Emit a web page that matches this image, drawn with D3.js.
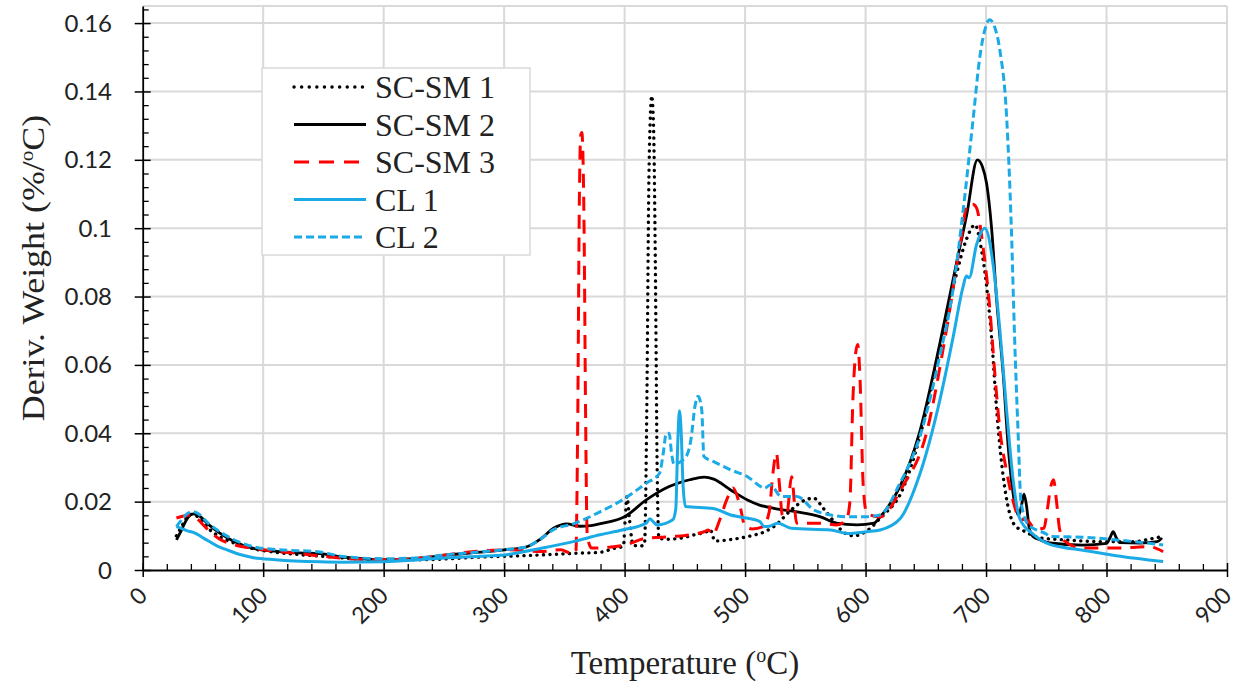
<!DOCTYPE html>
<html>
<head>
<meta charset="utf-8">
<script src="https://cdn.jsdelivr.net/npm/d3@7"></script>
<style>
  html, body { margin: 0; padding: 0; background: #ffffff; }
  svg { display: block; }
</style>
</head>
<body>
<svg id="chart" width="1241" height="687"></svg>
<script>
// ---------------- DATA ----------------
const seriesNames = ["SC-SM 1", "SC-SM 2", "SC-SM 3", "CL 1", "CL 2"];

const xTickValues = [0, 100, 200, 300, 400, 500, 600, 700, 800, 900];
const xTickLabels = ["0", "100", "200", "300", "400", "500", "600", "700", "800", "900"];
const yTickValues = [0, 0.02, 0.04, 0.06, 0.08, 0.1, 0.12, 0.14, 0.16];
const yTickLabels = ["0", "0.02", "0.04", "0.06", "0.08", "0.1", "0.12", "0.14", "0.16"];

// [temperature (°C), deriv. weight (%/°C)]
const scsm1 = [[28,0.0100],[32,0.0125],[36,0.0150],[41,0.0163],[46,0.0155],[55,0.0120],[65,0.0095],[75,0.0080],[92,0.0062],[110,0.0052],[130,0.0045],[150,0.0040],[175,0.0033],[200,0.0030],[230,0.0030],[260,0.0034],[280,0.0038],[300,0.0040],[330,0.0044],[360,0.0049],[380,0.0052],[390,0.0062],[399,0.0070],[400.5,0.0150],[402,0.0215],[404,0.0150],[407,0.0073],[413,0.0070],[416.5,0.0075],[418.5,0.050],[420,0.110],[421.5,0.134],[422.5,0.1387],[424,0.130],[425.5,0.090],[427,0.030],[428.5,0.0093],[435,0.0090],[446,0.0093],[460,0.0105],[468,0.0112],[471,0.0118],[475,0.0085],[490,0.0090],[505,0.0100],[515,0.0110],[525,0.0130],[538,0.0175],[550,0.0205],[557,0.0210],[565,0.0180],[573,0.0145],[582,0.0110],[590,0.0100],[602,0.0117],[613,0.0155],[630,0.0230],[645,0.0390],[661,0.0640],[675,0.0860],[684,0.0970],[691,0.1010],[695.5,0.0950],[700.5,0.0830],[704.6,0.0680],[708.8,0.0470],[713,0.0310],[718,0.0190],[724,0.0130],[731,0.0115],[745,0.0094],[767,0.0088],[795,0.0083],[822,0.0083],[838,0.0092],[846,0.0098]];

const scsm2 = [[28,0.0088],[32,0.0115],[36,0.0145],[42,0.0164],[47,0.0158],[55,0.0132],[64,0.0108],[75,0.0085],[92,0.0063],[110,0.0055],[130,0.0050],[147,0.0048],[165,0.0038],[185,0.0032],[200,0.0030],[225,0.0033],[253,0.0044],[280,0.0052],[300,0.0059],[319,0.0068],[330,0.0090],[341,0.0122],[352,0.0135],[363,0.0128],[372,0.0130],[380,0.0136],[400,0.0156],[418,0.0205],[437,0.0244],[454,0.0264],[466,0.0272],[474,0.0266],[488,0.0234],[502,0.0205],[512,0.0190],[524,0.0180],[543,0.0170],[562,0.0156],[576,0.0137],[593,0.0132],[607,0.0137],[612,0.0155],[628,0.0240],[645,0.0405],[661.5,0.0660],[675,0.0890],[684,0.1040],[692.8,0.1200],[697,0.1180],[700.5,0.1130],[704.6,0.1000],[708.8,0.0790],[714.3,0.0570],[718.4,0.0360],[722.6,0.0220],[727,0.0160],[729.5,0.0190],[731.5,0.0222],[733.5,0.0190],[736,0.0120],[739,0.0098],[745,0.0088],[753,0.0079],[780,0.0073],[800,0.0078],[803,0.0095],[805.5,0.0112],[808,0.0095],[811,0.0080],[828,0.0079],[842,0.0083],[846,0.0094]];

const scsm3 = [[28,0.0152],[34,0.0158],[39,0.0161],[45,0.0150],[55,0.0115],[64,0.0090],[75,0.0075],[92,0.0063],[110,0.0055],[130,0.0048],[150,0.0040],[175,0.0032],[200,0.0030],[230,0.0035],[253,0.0045],[275,0.0054],[303,0.0059],[330,0.0054],[347,0.0059],[355,0.0050],[359.5,0.0050],[361,0.0400],[362.5,0.1100],[363.5,0.1270],[364.5,0.1280],[365.5,0.1200],[366.5,0.0950],[367.5,0.0500],[369,0.0100],[372.7,0.0064],[385,0.0066],[400,0.0073],[418,0.0093],[440,0.0098],[454,0.0103],[466,0.0112],[469.5,0.0117],[473,0.0103],[479,0.0147],[484.7,0.0205],[490,0.0240],[495.6,0.0190],[500,0.0127],[506,0.0120],[515,0.0127],[520,0.0170],[523,0.0280],[526,0.0342],[528.5,0.0250],[531,0.0160],[534.5,0.0160],[538.6,0.0273],[542.8,0.0137],[551,0.0137],[562,0.0137],[576,0.0132],[584,0.0146],[587,0.0200],[589.5,0.0500],[592,0.0640],[593.5,0.0660],[595.5,0.0550],[598,0.0250],[601,0.0166],[612,0.0155],[630,0.0240],[650.5,0.0400],[667,0.0700],[678,0.0940],[685,0.1070],[689,0.1070],[692,0.1060],[697.7,0.0940],[703,0.0770],[707.4,0.0570],[711.5,0.0410],[717,0.0290],[722.6,0.0200],[728,0.0150],[734,0.0146],[741,0.0120],[748,0.0122],[751,0.0180],[753.5,0.0240],[756,0.0264],[758.5,0.0200],[761,0.0120],[765,0.0085],[780,0.0064],[808,0.0064],[835,0.0068],[847,0.0054]];

const cl1 = [[28,0.0127],[32,0.0122],[36.5,0.0115],[42,0.0110],[53,0.0088],[62,0.0070],[70,0.0059],[80,0.0046],[92,0.0036],[110,0.0030],[147,0.0024],[165,0.0023],[200,0.0024],[230,0.0030],[253,0.0036],[280,0.0040],[300,0.0044],[330,0.0063],[357.5,0.0083],[379.5,0.0103],[398,0.0117],[418,0.0137],[421,0.0150],[424,0.0140],[427,0.0132],[440,0.0147],[442.5,0.0180],[444,0.0360],[445.5,0.0466],[447,0.0400],[448.5,0.0250],[450.5,0.0186],[473.6,0.0180],[488,0.0161],[496,0.0155],[512,0.0142],[516,0.0127],[520,0.0128],[527,0.0137],[538.5,0.0122],[571,0.0117],[585,0.0107],[601,0.0112],[612,0.0117],[628.6,0.0150],[645,0.0280],[661.5,0.0495],[672.6,0.0680],[681,0.0830],[683.6,0.0860],[686,0.0855],[692,0.0950],[699,0.1000],[706,0.0890],[711.5,0.0700],[717,0.0470],[722.6,0.0260],[728,0.0150],[739,0.0105],[753,0.0075],[761,0.0068],[780.5,0.0058],[808,0.0042],[847,0.0025]];

const cl2 = [[28,0.0127],[33,0.0150],[37,0.0165],[41,0.0171],[46,0.0165],[55,0.0135],[64,0.0112],[75,0.0090],[92,0.0068],[110,0.0060],[147,0.0053],[165,0.0040],[200,0.0033],[230,0.0036],[253,0.0045],[280,0.0053],[300,0.0059],[319,0.0068],[330,0.0090],[341,0.0118],[357.5,0.0135],[379.5,0.0170],[398,0.0205],[418,0.0254],[429,0.0283],[432,0.0340],[434.6,0.0400],[437,0.0400],[439,0.0340],[441,0.0310],[451,0.0332],[455,0.0380],[458.4,0.0479],[461,0.0508],[464,0.0469],[465.8,0.0332],[474,0.0317],[488,0.0293],[502,0.0273],[513,0.0244],[516,0.0239],[521,0.0249],[530,0.0215],[543,0.0215],[557,0.0176],[571,0.0161],[585,0.0156],[601,0.0156],[612,0.0161],[628,0.0250],[645,0.0390],[661.5,0.0625],[672.6,0.0820],[681,0.1052],[689.3,0.1320],[694.8,0.1500],[699,0.1580],[703,0.1610],[707,0.1590],[711.5,0.1520],[717,0.1330],[721,0.1000],[723.7,0.0680],[726.5,0.0410],[729,0.0200],[735,0.0133],[750,0.0105],[753,0.0098],[780,0.0096],[808,0.0088],[835.6,0.0078],[847,0.0073]];

const seriesData = [scsm1, scsm2, scsm3, cl1, cl2];

// ---------------- STYLE ----------------
const styles = [
  { color: "#000000", width: 3.4, dash: "0.1 6.4", cap: "round", legendDash: "0.1 7.5" },
  { color: "#000000", width: 2.8, dash: null, cap: "butt", legendDash: null },
  { color: "#ff0000", width: 3.0, dash: "14 9", cap: "butt", legendDash: "15 10" },
  { color: "#1aaae6", width: 3.0, dash: null, cap: "butt", legendDash: null },
  { color: "#1aaae6", width: 3.0, dash: "8 4", cap: "butt", legendDash: "8 4" }
];

const svg = d3.select("#chart");
const x = d3.scaleLinear().domain([0, 900]).range([142.7, 1227]);
const y = d3.scaleLinear().domain([0, 0.165]).range([570, 6]);

const gridColor = "#d9d9d9";

// grid
const grid = svg.append("g");
grid.selectAll("line.v").data(xTickValues.filter(d => d > 0)).enter().append("line")
  .attr("x1", d => x(d)).attr("x2", d => x(d))
  .attr("y1", y.range()[0]).attr("y2", y.range()[1])
  .attr("stroke", gridColor).attr("stroke-width", 2);
grid.selectAll("line.h").data(yTickValues.filter(d => d > 0)).enter().append("line")
  .attr("x1", x.range()[0]).attr("x2", x.range()[1])
  .attr("y1", d => y(d)).attr("y2", d => y(d))
  .attr("stroke", gridColor).attr("stroke-width", 2);
grid.append("line")
  .attr("x1", x.range()[0]).attr("x2", x.range()[1])
  .attr("y1", y.range()[1]).attr("y2", y.range()[1])
  .attr("stroke", gridColor).attr("stroke-width", 2);

// lines
const line = d3.line().x(d => x(d[0])).y(d => y(d[1])).curve(d3.curveMonotoneX);
seriesData.forEach((data, i) => {
  const s = styles[i];
  svg.append("path").datum(data)
    .attr("d", line)
    .attr("fill", "none")
    .attr("stroke", s.color)
    .attr("stroke-width", s.width)
    .attr("stroke-linecap", s.cap)
    .attr("stroke-linejoin", "round")
    .attr("stroke-dasharray", s.dash);
});

// axes
const minorX = d3.range(0, 901, 20).filter(v => v % 100 !== 0);
const minorY = d3.range(0, 0.1651, 0.004).filter(v => Math.abs(v / 0.02 - Math.round(v / 0.02)) > 1e-6);

const xAxisG = svg.append("g").attr("transform", `translate(0,${y(0)})`)
  .call(d3.axisBottom(x).tickValues(xTickValues).tickFormat(() => "").tickSizeInner(7).tickSizeOuter(0));
xAxisG.selectAll(".tick line").attr("y1", -7).attr("y2", 7).attr("stroke-width", 1.5);
xAxisG.select(".domain").attr("stroke-width", 1.8);
const xMinorG = svg.append("g").attr("transform", `translate(0,${y(0)})`)
  .call(d3.axisBottom(x).tickValues(minorX).tickFormat(() => "").tickSizeInner(-6).tickSizeOuter(0));
xMinorG.select(".domain").remove();
xMinorG.selectAll(".tick line").attr("stroke-width", 1.3);

const yAxisG = svg.append("g").attr("transform", `translate(${x(0)},0)`)
  .call(d3.axisLeft(y).tickValues(yTickValues).tickFormat(() => "").tickSizeInner(8).tickSizeOuter(0));
yAxisG.selectAll(".tick line").attr("x1", -8).attr("x2", 8).attr("stroke-width", 1.5);
yAxisG.select(".domain").attr("stroke-width", 1.8);
const yMinorG = svg.append("g").attr("transform", `translate(${x(0)},0)`)
  .call(d3.axisLeft(y).tickValues(minorY).tickFormat(() => "").tickSizeInner(-6).tickSizeOuter(0));
yMinorG.select(".domain").remove();
yMinorG.selectAll(".tick line").attr("stroke-width", 1.3);

// tick labels
const tickFont = "Lato, 'Open Sans', sans-serif";
svg.append("g").selectAll("text").data(yTickValues).enter().append("text")
  .attr("x", 112).attr("y", d => y(d) + 8.5)
  .attr("text-anchor", "end")
  .attr("font-family", tickFont).attr("font-size", 24).attr("fill", "#222")
  .text((d, i) => yTickLabels[i]);

svg.append("g").selectAll("text").data(xTickValues).enter().append("text")
  .attr("transform", d => `translate(${x(d) + 6},${597}) rotate(-45)`)
  .attr("text-anchor", "end")
  .attr("font-family", tickFont).attr("font-size", 23).attr("fill", "#222")
  .text((d, i) => xTickLabels[i]);

// axis titles
const titleFont = "'Liberation Serif', 'Times New Roman', serif";
const xt = svg.append("text")
  .attr("x", 685).attr("y", 674)
  .attr("text-anchor", "middle")
  .attr("font-family", titleFont).attr("font-size", 33).attr("fill", "#222");
xt.append("tspan").text("Temperature (");
xt.append("tspan").attr("font-size", 20).attr("dy", -12).text("o");
xt.append("tspan").attr("dy", 12).text("C)");

const yt = svg.append("text")
  .attr("transform", "translate(44,268) rotate(-90) scale(1.12,1)")
  .attr("text-anchor", "middle")
  .attr("font-family", titleFont).attr("font-size", 32).attr("fill", "#222");
yt.append("tspan").text("Deriv. Weight (%/");
yt.append("tspan").attr("font-size", 19).attr("dy", -11).text("o");
yt.append("tspan").attr("dy", 11).text("C)");

// legend
const lg = svg.append("g");
lg.append("rect").attr("x", 262).attr("y", 68).attr("width", 268).attr("height", 187)
  .attr("fill", "#ffffff").attr("stroke", gridColor).attr("stroke-width", 1.5);
seriesNames.forEach((name, i) => {
  const cy = 87 + i * 37.5;
  const s = styles[i];
  lg.append("line").attr("x1", 294).attr("x2", 366).attr("y1", cy).attr("y2", cy)
    .attr("stroke", s.color).attr("stroke-width", s.width)
    .attr("stroke-linecap", s.cap)
    .attr("stroke-dasharray", s.legendDash);
  lg.append("text").attr("x", 375).attr("y", cy + 11)
    .attr("font-family", titleFont).attr("font-size", 32).attr("fill", "#222")
    .text(name);
});
</script>
</body>
</html>
